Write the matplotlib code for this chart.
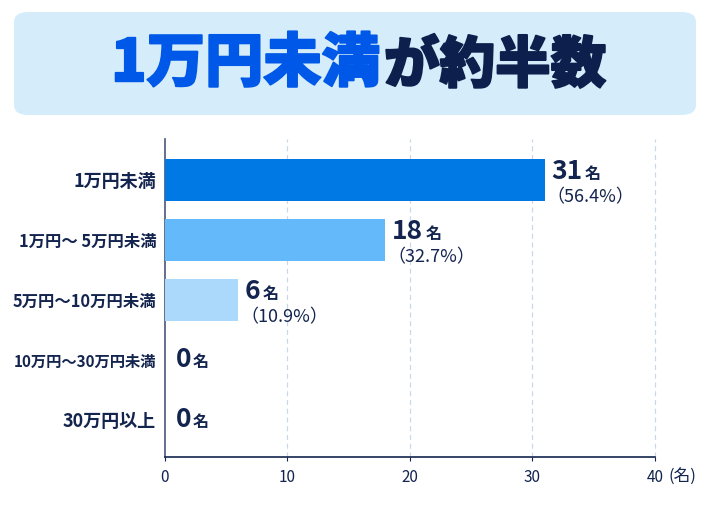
import matplotlib
matplotlib.use("Agg")
import matplotlib.pyplot as plt
from matplotlib.patches import FancyBboxPatch
import matplotlib.patheffects as pe

plt.rcParams['font.family'] = ['Noto Sans CJK JP', 'DejaVu Sans']

categories = ["1万円未満", "1万円～ 5万円未満", "5万円～10万円未満", "10万円～30万円未満", "30万円以上"]
counts = [31, 18, 6, 0, 0]
percents = ["（56.4%）", "（32.7%）", "（10.9%）", "", ""]
bar_colors = ["#0079E4", "#64B9FB", "#AAD9FC", "#AAD9FC", "#AAD9FC"]
xticks = [0, 10, 20, 30, 40]
title_a = "1万円未満"
title_b = "が約半数"
unit = "名"

label_sizes = [13, 11.8, 11.8, 11, 13]

NAVY = "#13244F"
W, H = 710, 508
fig = plt.figure(figsize=(W / 100, H / 100), dpi=100)
fig.patch.set_facecolor("white")

# title box
bx0, bx1, by0, by1 = 14, 696, 12, 115
box = FancyBboxPatch((bx0 / W, 1 - by1 / H), (bx1 - bx0) / W, (by1 - by0) / H,
                     boxstyle="round,pad=0,rounding_size=0.02",
                     transform=fig.transFigure, facecolor="#D5EDFB", edgecolor="none")
fig.patches.append(box)
fig.text(380 / W, 1 - 64 / H, title_a, ha="right", va="center", fontsize=42,
         fontweight="black", color="#0058E8",
         path_effects=[pe.withStroke(linewidth=1.4, foreground="#0058E8")])
fig.text(384 / W, 1 - 66 / H, title_b, ha="left", va="center", fontsize=40,
         fontweight="black", color="#0D1F4C",
         path_effects=[pe.withStroke(linewidth=1.4, foreground="#0D1F4C")])

ax = fig.add_axes([164.5 / W, 51 / H, (655 - 164.5) / W, (457 - 139) / H])
y = list(range(len(categories)))
ax.barh(y, counts, height=0.7, color=bar_colors, zorder=3)
ax.set_xlim(0, 40)
ax.set_ylim(4.617, -0.683)
ax.set_xticks(xticks)
ax.set_xticklabels([str(t) for t in xticks], fontsize=11, color=NAVY)
ax.set_yticks(y)
ax.set_yticklabels(categories, fontweight="bold", color=NAVY)
for lab, s in zip(ax.get_yticklabels(), label_sizes):
    lab.set_fontsize(s)
ax.tick_params(axis="y", length=0, pad=6)
ax.tick_params(axis="x", length=3, color=NAVY, pad=6)
for s in ["top", "right"]:
    ax.spines[s].set_visible(False)
ax.spines["left"].set_color("#4A5578")
ax.spines["left"].set_linewidth(1.2)
ax.spines["bottom"].set_color(NAVY)
ax.spines["bottom"].set_linewidth(1.2)
for t in xticks[1:]:
    ax.axvline(t, linestyle=(0, (4, 3)), color="#C9D8E8", linewidth=0.9, zorder=0, clip_on=False)

for i, (c, p) in enumerate(zip(counts, percents)):
    if p:
        t = ax.annotate(str(c), xy=(c, i), xytext=(7, 8), textcoords="offset pixels",
                        ha="left", va="center", fontsize=19, fontweight="bold", color=NAVY)
        ax.annotate(unit, xy=(1, 0.14), xycoords=t, xytext=(2, 0), textcoords="offset pixels",
                    ha="left", va="bottom", fontsize=11.5, fontweight="bold", color=NAVY)
        ax.annotate(p, xy=(c, i), xytext=(2, -17), textcoords="offset pixels",
                    ha="left", va="center", fontsize=13, color=NAVY)
    else:
        t = ax.annotate(str(c), xy=(c, i), xytext=(11, 0), textcoords="offset pixels",
                        ha="left", va="center", fontsize=19, fontweight="bold", color=NAVY)
        ax.annotate(unit, xy=(1, 0.14), xycoords=t, xytext=(2, 0), textcoords="offset pixels",
                    ha="left", va="bottom", fontsize=11.5, fontweight="bold", color=NAVY)

fig.text(669 / W, 1 - 477 / H, "(名)", ha="left", va="center", fontsize=12, color=NAVY)

fig.savefig("out.png", dpi=100)
